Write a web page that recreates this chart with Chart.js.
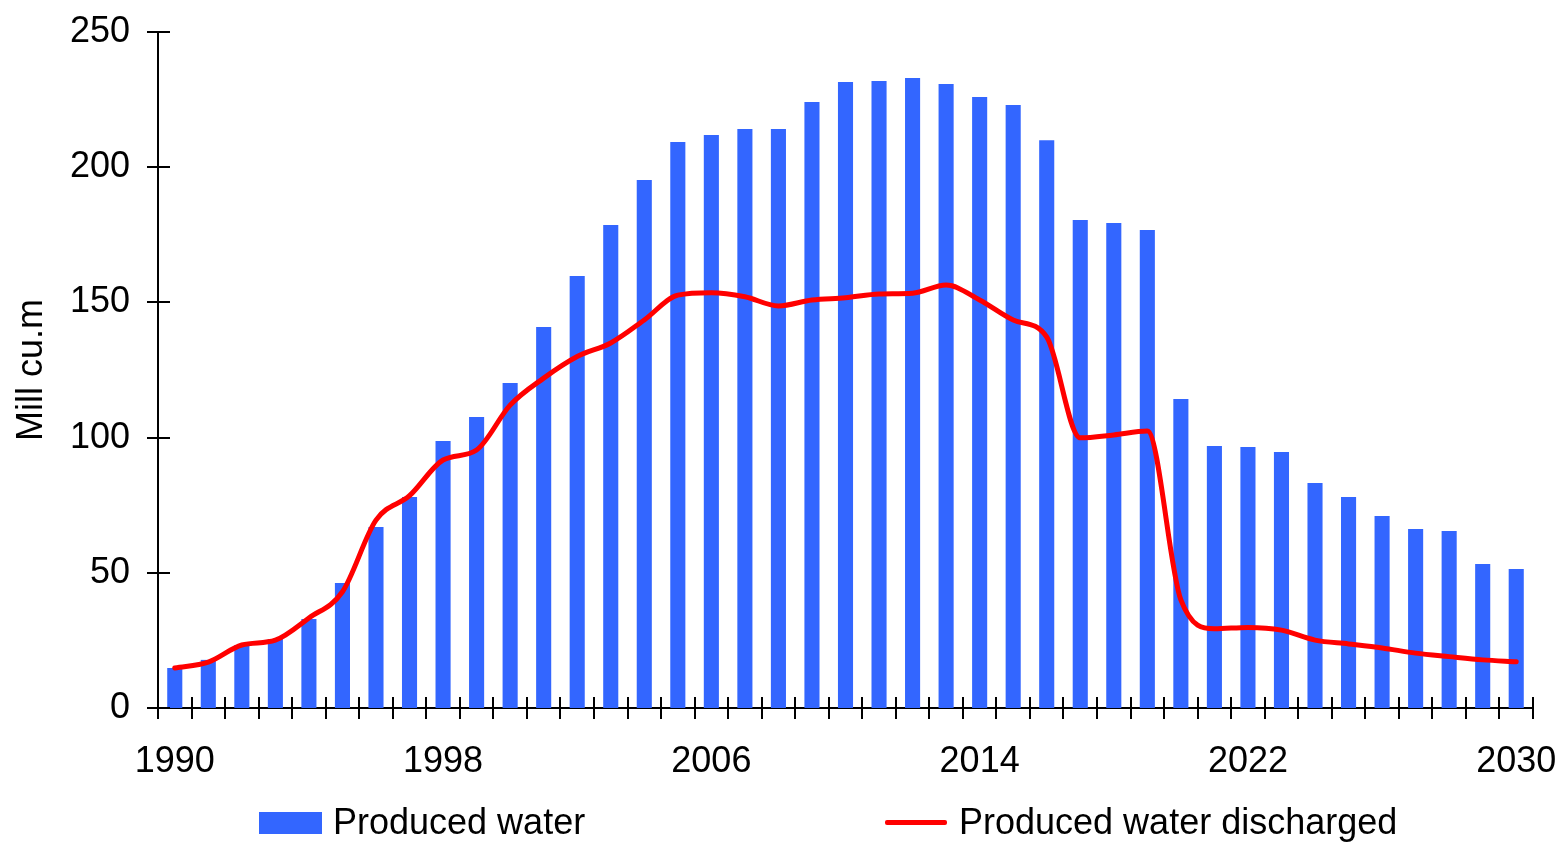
<!DOCTYPE html>
<html>
<head>
<meta charset="utf-8">
<script src="https://cdn.jsdelivr.net/npm/chart.js@4.4.1/dist/chart.umd.min.js"></script>
<style>
  html, body { margin: 0; padding: 0; background: #ffffff; }
  #wrap { position: relative; width: 1562px; height: 842px; overflow: hidden; }
  #chart { position: absolute; left: 0; top: 0; }
  .leg { position: absolute; font-family: 'Liberation Sans', Arial, sans-serif; font-size: 36px; color: #000; white-space: nowrap; line-height: 40px; }
</style>
</head>
<body>
<div id="wrap">
  <canvas id="chart" width="1562" height="842"></canvas>
  <div id="legend"></div>
</div>
<script>
const years = ["1990","1991","1992","1993","1994","1995","1996","1997","1998","1999",
               "2000","2001","2002","2003","2004","2005","2006","2007","2008","2009",
               "2010","2011","2012","2013","2014","2015","2016","2017","2018","2019",
               "2020","2021","2022","2023","2024","2025","2026","2027","2028","2029","2030"];

const producedWater = [14.8, 17.8, 23.3, 25.5, 32.9, 46.2, 66.9, 78.0, 98.7, 107.6,
                       120.2, 140.9, 159.8, 178.6, 195.3, 209.3, 211.9, 214.1, 214.1, 224.1,
                       231.5, 231.9, 233.0, 230.8, 226.0, 223.0, 210.0, 180.5, 179.4, 176.8,
                       114.3, 96.9, 96.5, 94.7, 83.2, 78.0, 71.0, 66.2, 65.5, 53.3, 51.4];

const producedWaterDischarged = [14.8, 17.0, 23.3, 25.1, 33.3, 43.0, 69.5, 78.5, 91.7, 95.4,
                                 112.0, 122.0, 130.0, 135.0, 143.5, 152.7, 153.6, 152.1, 148.7, 150.9,
                                 151.7, 153.1, 153.4, 156.4, 150.9, 143.5, 137.2, 99.9, 101.0, 102.4,
                                 40.0, 29.3, 29.8, 28.8, 25.1, 23.7, 22.2, 20.3, 19.0, 17.8, 17.1];

const labelEvery = 8;
const yTickValues = [0, 50, 100, 150, 200, 250];
const seriesNames = ["Produced water", "Produced water discharged"];
const yTitle = "Mill cu.m";

Chart.defaults.font.family = "'Liberation Sans', Arial, sans-serif";
Chart.defaults.color = "#000000";

const crossTicks = {
  id: 'crossTicks',
  afterDraw(chart) {
    const ctx = chart.ctx;
    const xs = chart.scales.x, ys = chart.scales.y;
    ctx.save();
    ctx.strokeStyle = '#000000';
    ctx.lineWidth = 2;
    ctx.beginPath();
    const n = chart.data.labels.length;
    for (let i = 0; i <= n; i++) {
      const x = Math.round(xs.getPixelForValue(i - 0.5));
      ctx.moveTo(x, xs.top - 11);
      ctx.lineTo(x, xs.top + 11);
    }
    ys.ticks.forEach((t, i) => {
      const y = Math.round(ys.getPixelForTick(i));
      ctx.moveTo(ys.right - 11, y);
      ctx.lineTo(ys.right + 12, y);
    });
    ctx.stroke();
    ctx.restore();
  }
};

const chart = new Chart(document.getElementById('chart'), {
  data: {
    labels: years,
    datasets: [
      {
        type: 'line',
        label: seriesNames[1],
        data: producedWaterDischarged,
        borderColor: '#FF0000',
        backgroundColor: '#FF0000',
        borderWidth: 5,
        pointRadius: 0,
        cubicInterpolationMode: 'monotone',
        borderCapStyle: 'round',
        borderJoinStyle: 'round',
        order: 0
      },
      {
        type: 'bar',
        label: seriesNames[0],
        data: producedWater,
        backgroundColor: '#3366FF',
        borderWidth: 0,
        categoryPercentage: 1.0,
        barPercentage: 0.45,
        order: 1
      }
    ]
  },
  options: {
    responsive: false,
    animation: false,
    events: [],
    layout: { padding: { left: 0, right: 29, top: 32, bottom: 54 } },
    plugins: { legend: { display: false }, tooltip: { enabled: false } },
    scales: {
      x: {
        type: 'category',
        offset: true,
        grid: { display: false, drawTicks: false, offset: true },
        border: { display: true, color: '#000000', width: 2 },
        ticks: {
          autoSkip: false,
          maxRotation: 0,
          minRotation: 0,
          padding: 32,
          font: { size: 36 },
          color: '#000000',
          callback: function(value, index) {
            return index % labelEvery === 0 ? this.getLabelForValue(value) : '';
          }
        },
        afterFit(scale) {
          scale.height = 80;
          scale.paddingLeft = 0; scale.paddingRight = 0;
          scale.paddingTop = 0; scale.paddingBottom = 0;
        }
      },
      y: {
        min: 0,
        max: 250,
        afterBuildTicks(scale) { scale.ticks = yTickValues.map(v => ({ value: v })); },
        grid: { display: false, drawTicks: false },
        border: { display: true, color: '#000000', width: 2 },
        ticks: { padding: 28, font: { size: 36 }, color: '#000000' },
        title: { display: true, text: yTitle, font: { size: 36 }, color: '#000000', padding: { top: 10, bottom: 0 } },
        afterFit(scale) {
          scale.width = 158;
          scale.paddingLeft = 0; scale.paddingRight = 0;
          scale.paddingTop = 0; scale.paddingBottom = 0;
        }
      }
    }
  },
  plugins: [crossTicks]
});

// HTML legend built from dataset properties
(function buildLegend() {
  const leg = document.getElementById('legend');
  const bar = chart.data.datasets[1];
  const line = chart.data.datasets[0];
  const items = [
    { left: 259, kind: 'box', color: bar.backgroundColor, text: bar.label },
    { left: 885, kind: 'line', color: line.borderColor, text: line.label }
  ];
  items.forEach(it => {
    const sw = document.createElement('div');
    sw.style.position = 'absolute';
    if (it.kind === 'box') {
      sw.style.left = it.left + 'px'; sw.style.top = '812px';
      sw.style.width = '63px'; sw.style.height = '22px';
      sw.style.background = it.color;
    } else {
      sw.style.left = it.left + 'px'; sw.style.top = '820px';
      sw.style.width = '62px'; sw.style.height = '4.5px';
      sw.style.background = it.color; sw.style.borderRadius = '2px';
    }
    leg.appendChild(sw);
    const tx = document.createElement('div');
    tx.className = 'leg';
    tx.style.left = (it.left + 74) + 'px';
    tx.style.top = '802px';
    tx.textContent = it.text;
    leg.appendChild(tx);
  });
})();
</script>
</body>
</html>
